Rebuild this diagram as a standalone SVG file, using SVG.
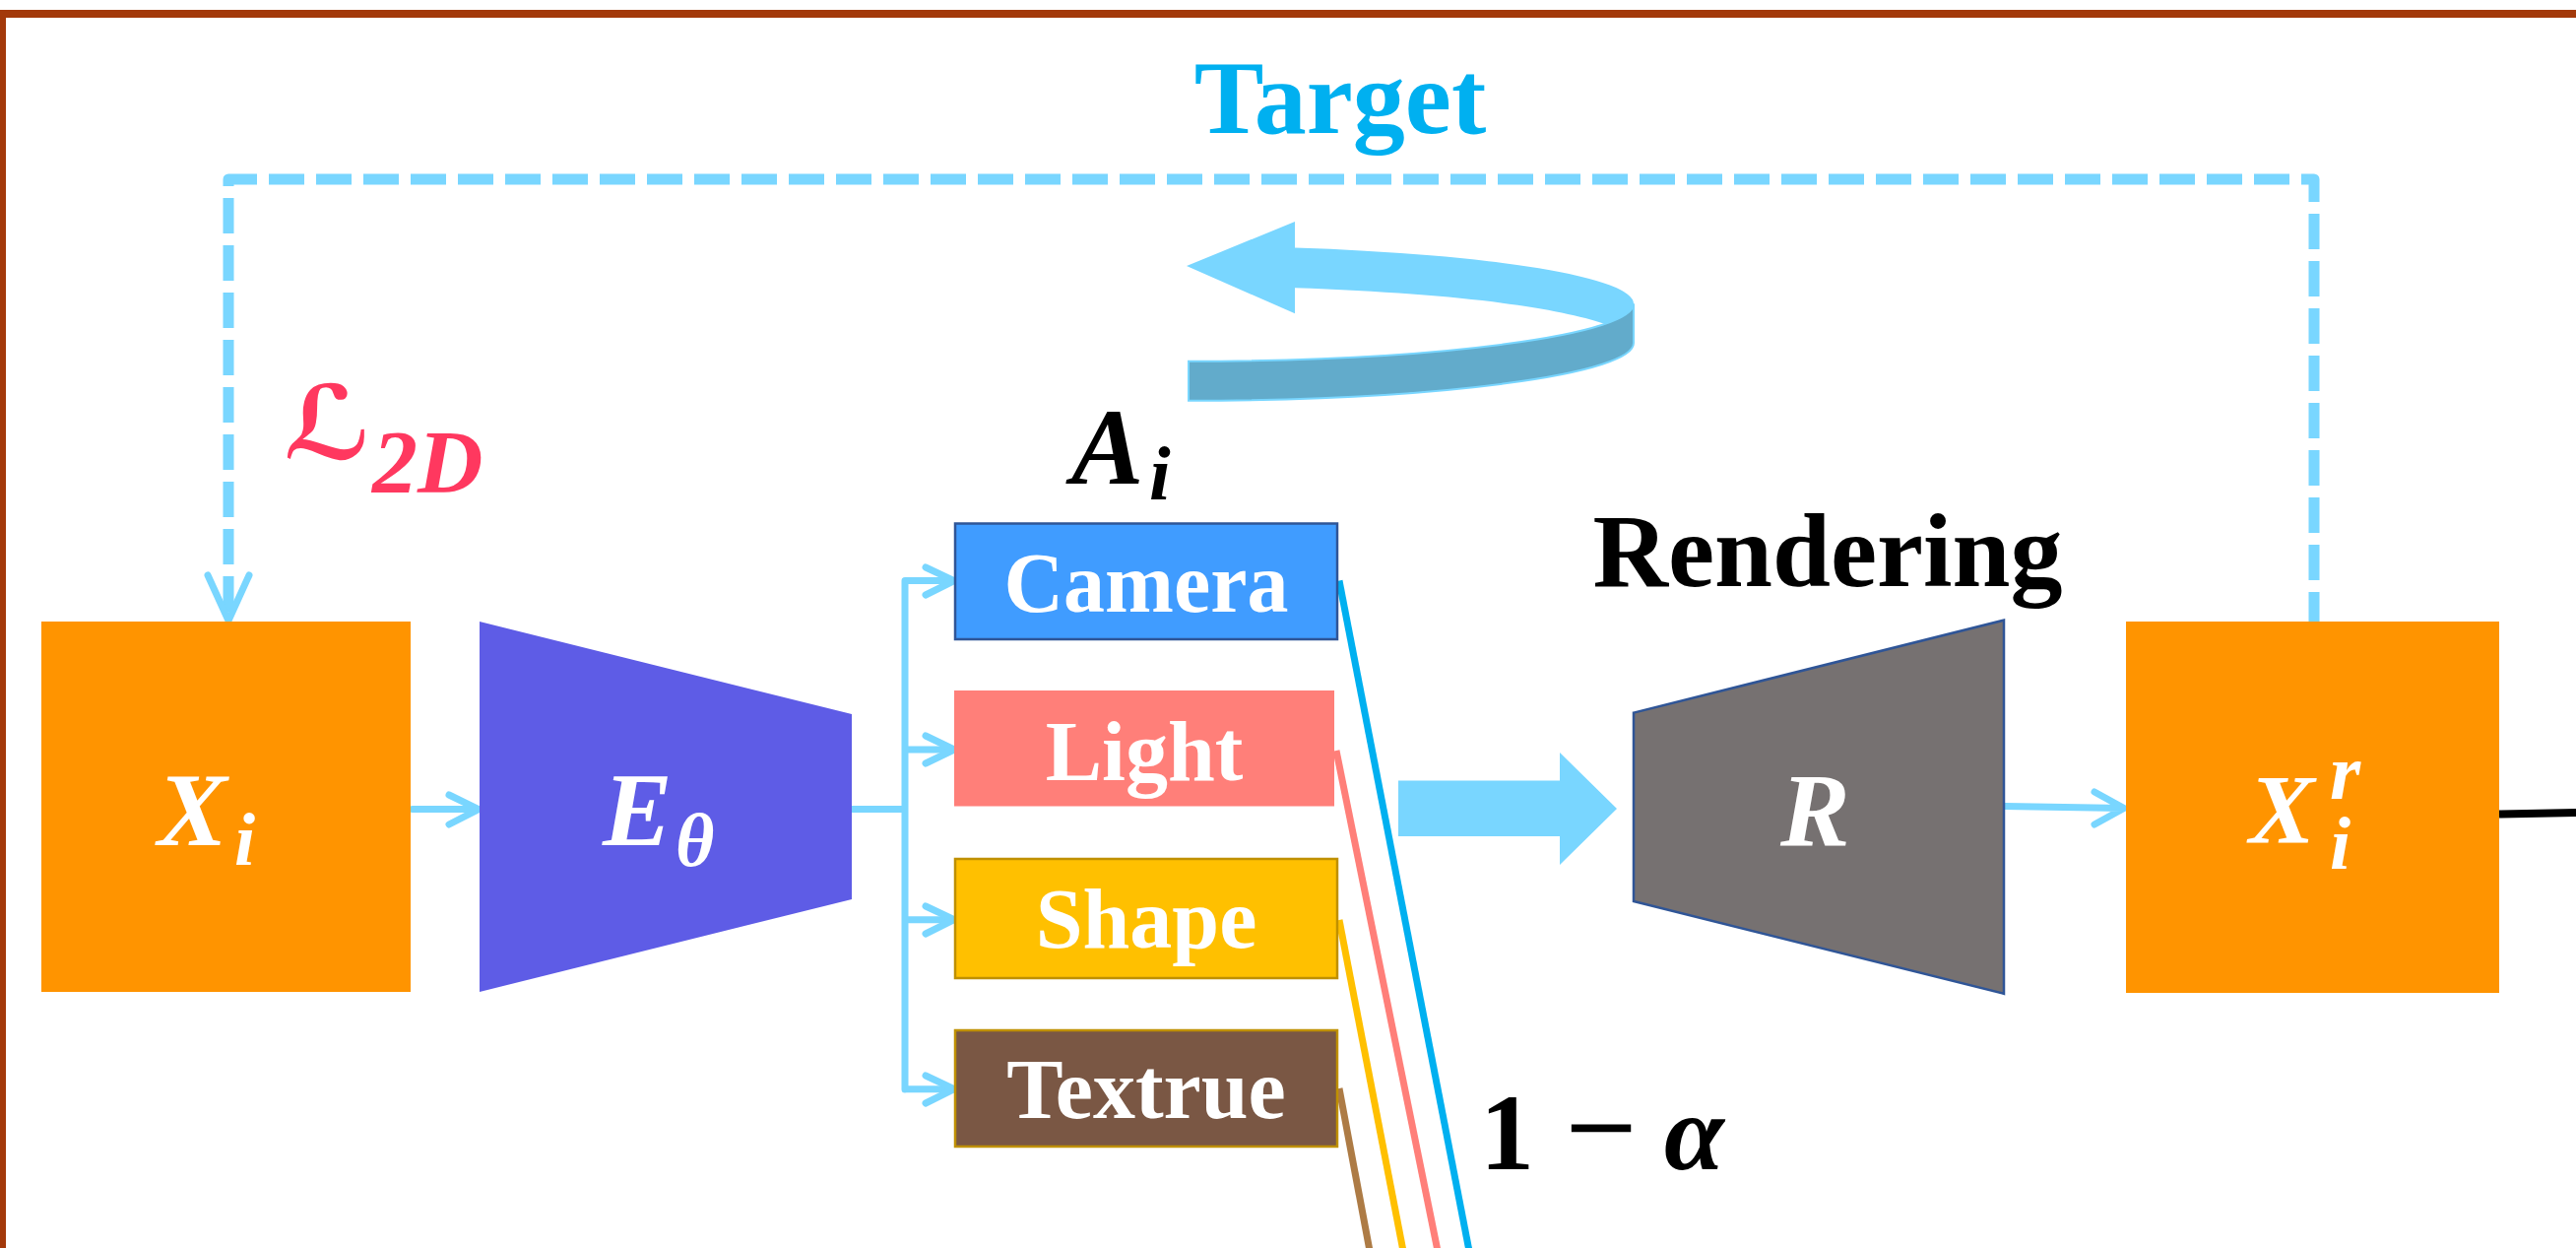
<svg xmlns="http://www.w3.org/2000/svg" width="2616" height="1267" viewBox="0 0 2616 1267">
<defs>
<style>
.lbl{font-family:"Liberation Serif","Times New Roman",serif;font-weight:bold;}
.math{font-family:"Liberation Serif","Times New Roman","DejaVu Serif",serif;font-weight:bold;font-style:italic;}
.wt{fill:#ffffff;}
.conn{fill:none;stroke:#79D6FF;stroke-width:7;stroke-linecap:round;stroke-linejoin:round;}
.feat{fill:none;stroke-width:7;}
</style>
</defs>
<rect width="2616" height="1267" fill="#ffffff"/>
<path d="M2,1275 V14 H2625" fill="none" stroke="#A3390A" stroke-width="8"/>

<g id="target-label"><text class="lbl" x="1361" y="135" font-size="106" fill="#00B0F0" text-anchor="middle">Target</text></g>
<g id="loss-label">
<text x="288" y="466" font-size="104" font-family="'DejaVu Serif','DejaVu Sans',serif" font-weight="bold" fill="#FF385F">ℒ</text>
<text class="math" x="378" y="500" font-size="92" fill="#FF385F">2D</text>
</g>

<g id="rotation-arrow">
<path d="M1207,366.7 A452,58.4 0 0,0 1659,308.3 L1659,348.3 A452,58.4 0 0,1 1207,406.7 Z" fill="#62ABCB" stroke="#79D6FF" stroke-width="2"/>
<path d="M1205,270 L1315,225 L1315,251.6 A452,58.4 0 0,1 1659,308.3 A452,58.4 0 0,1 1630,328.9 C1580,312 1480,298 1315,292.3 L1315,318.3 Z" fill="#79D6FF"/>
</g>

<g id="connectors">
<path d="M232,633 V182 H2350 V631" fill="none" stroke="#79D6FF" stroke-width="11" stroke-dasharray="36 12" stroke-dashoffset="36" stroke-linejoin="round"/>
<path class="conn" d="M211,584 L232,630 L253,584"/>
<path class="conn" d="M419,821.6 H485 M456,807 L486,821.6 L456,837"/>
<path class="conn" d="M865,821.6 H919 M919,589.6 V1106 M919,589.6 H968 M919,761 H968 M919,933.7 H968 M919,1105.7 H968"/>
<path class="conn" d="M940,576 L969,589.6 L940,604 M940,747 L969,761 L940,775 M940,920 L969,933.7 L940,948 M940,1092 L969,1105.7 L940,1120"/>
<path class="conn" d="M2036,818.5 L2156,820.5 M2127,804 L2157,820.5 L2127,837"/>
<path d="M1420,792.5 H1584 V764 L1642,821 L1584,878 V849 H1420 Z" fill="#79D6FF"/>
<path d="M2538,826.5 L2620,825" stroke="#000" stroke-width="8" fill="none"/>
<path class="feat" d="M1360,589.5 L1492,1270" stroke="#00B0F0"/>
<path class="feat" d="M1357,762 L1460,1270" stroke="#FF7F79"/>
<path class="feat" d="M1360,934 L1425,1270" stroke="#FFC000"/>
<path class="feat" d="M1360,1105 L1391,1270" stroke="#AD7B45"/>
</g>

<g id="node-xi">
<rect x="42" y="631" width="375" height="376" fill="#FF9400"/>
<text class="math wt" x="160" y="858" font-size="106">X</text>
<text class="math wt" x="238" y="878" font-size="76">i</text>
</g>

<g id="node-encoder">
<path d="M487,631 L865,725 L865,913 L487,1007 Z" fill="#5E5CE6"/>
<text class="math wt" x="612" y="858" font-size="106">E</text>
<text class="math wt" x="686" y="879" font-size="76">θ</text>
</g>

<g id="label-ai">
<text class="math" x="1088" y="491" font-size="110" fill="#000">A</text>
<text class="math" x="1167" y="507" font-size="78" fill="#000">i</text>
</g>

<g id="node-camera">
<rect x="970" y="531.5" width="388" height="117.5" fill="#409CFF" stroke="#2F5597" stroke-width="2.5"/>
<text class="lbl wt" x="1164" y="620.5" font-size="86" text-anchor="middle" textLength="289" lengthAdjust="spacingAndGlyphs">Camera</text>
</g>
<g id="node-light">
<rect x="969" y="701" width="386" height="117.5" fill="#FF7F79"/>
<text class="lbl wt" x="1162" y="792" font-size="86" text-anchor="middle">Light</text>
</g>
<g id="node-shape">
<rect x="970" y="872" width="388" height="121" fill="#FFC000" stroke="#BF9000" stroke-width="2.5"/>
<text class="lbl wt" x="1164" y="962" font-size="86" text-anchor="middle">Shape</text>
</g>
<g id="node-texture">
<rect x="970" y="1046" width="388" height="118" fill="#7A5744" stroke="#BF9000" stroke-width="2.5"/>
<text class="lbl wt" x="1164" y="1135" font-size="86" text-anchor="middle">Textrue</text>
</g>

<g id="label-rendering"><text class="lbl" x="1856" y="595" font-size="106" fill="#000" text-anchor="middle">Rendering</text></g>

<g id="node-renderer">
<path d="M1659,723.6 L2035,629.6 L2035,1008.8 L1659,915 Z" fill="#767171" stroke="#2F5597" stroke-width="2.5"/>
<text class="math wt" x="1808" y="858" font-size="106">R</text>
</g>

<g id="node-xri">
<rect x="2159" y="631" width="379" height="377" fill="#FF9400"/>
<text class="math wt" x="2284" y="855" font-size="100">X</text>
<text class="math wt" x="2366" y="811" font-size="80">r</text>
<text class="math wt" x="2366" y="882" font-size="76">i</text>
</g>

<g id="label-alpha">
<text class="lbl" x="1503" y="1187" font-size="110" fill="#000">1</text>
<text class="lbl" x="1589" y="1182" font-size="110" fill="#000" textLength="74" lengthAdjust="spacingAndGlyphs">−</text>
<text class="math" x="1690" y="1187" font-size="110" fill="#000">α</text>
</g>
</svg>
